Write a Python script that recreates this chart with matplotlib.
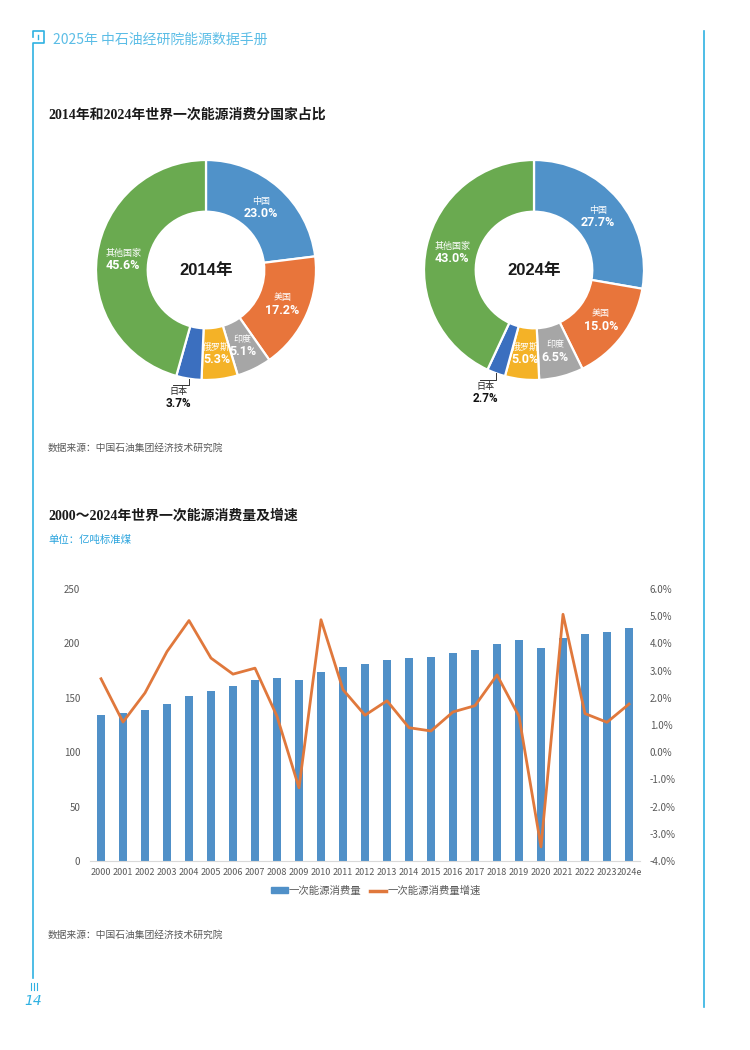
"""2014/2024 world primary energy consumption by country, and 2000-2024 consumption & growth."""
import matplotlib
matplotlib.use("Agg")
import matplotlib.pyplot as plt
import numpy as np
from matplotlib.lines import Line2D
from matplotlib.patches import Patch

plt.rcParams['font.family'] = ['Noto Sans CJK SC', 'DejaVu Sans']

# ---- data ----
countries = ["中国", "美国", "印度", "俄罗斯", "日本", "其他国家"]
share_2014 = [23.0, 17.2, 5.1, 5.3, 3.7, 45.6]
share_2024 = [27.7, 15.0, 6.5, 5.0, 2.7, 43.0]
pie_colors = ["#5092c9", "#e8753b", "#a6a6a6", "#f4b227", "#3b6fbf", "#6aaa50"]

years = ["2000", "2001", "2002", "2003", "2004", "2005", "2006", "2007", "2008",
         "2009", "2010", "2011", "2012", "2013", "2014", "2015", "2016", "2017",
         "2018", "2019", "2020", "2021", "2022", "2023", "2024e"]
consumption = [134.4, 135.6, 139.0, 144.2, 151.2, 156.4, 161.0, 166.3, 168.1,
               166.3, 173.9, 178.5, 181.0, 184.4, 186.2, 187.7, 190.8, 194.2,
               199.7, 202.8, 195.4, 205.2, 208.3, 210.4, 214.1]
growth = [2.70, 1.11, 2.18, 3.70, 4.84, 3.46, 2.87, 3.09, 1.32, -1.31, 4.87, 2.30,
          1.36, 1.89, 0.90, 0.78, 1.48, 1.71, 2.84, 1.32, -3.48, 5.07, 1.42, 1.10, 1.77]

W, H = 750, 1050
BLUE_LINE = "#2fb1e2"
GRAY = "#595959"


def fx(x):
    return x / W


def fy(y):
    return 1 - y / H


fig = plt.figure(figsize=(7.5, 10.5), dpi=100)

# ---- page frame ----
frame = fig.add_axes([0, 0, 1, 1])
frame.set_xlim(0, W)
frame.set_ylim(H, 0)
frame.axis("off")
frame.plot([33, 33, 44, 44, 33, 33], [37, 31, 31, 43, 43, 978], color=BLUE_LINE, lw=1.2)
frame.plot([38, 38], [35, 39], color=BLUE_LINE, lw=1.0)
frame.plot([704, 704], [31, 1007], color=BLUE_LINE, lw=1.2)
for xm in (31, 34, 37):
    frame.plot([xm, xm], [983, 990], color=BLUE_LINE, lw=0.8)
frame.text(33, 1001, "14", color=BLUE_LINE, fontsize=10, style="italic",
           ha="center", va="center", family=["DejaVu Sans"])
frame.text(53, 40, "2025年 中石油经研院能源数据手册", color="#5bbde6", fontsize=10,
           ha="left", va="center", weight="light")

title_font = ["Liberation Serif", "Noto Sans CJK SC"]
frame.text(48, 115, "2014年和2024年世界一次能源消费分国家占比", fontsize=10,
           weight="bold", family=title_font, ha="left", va="center", color="#1a1a1a")
frame.text(48, 448, "数据来源：中国石油集团经济技术研究院", fontsize=7, color=GRAY,
           ha="left", va="center")
frame.text(48, 516, "2000～2024年世界一次能源消费量及增速", fontsize=10,
           weight="bold", family=title_font, ha="left", va="center", color="#1a1a1a")
frame.text(48, 540, "单位：亿吨标准煤", fontsize=7.5, color="#29a3dd",
           ha="left", va="center")
frame.text(48, 935, "数据来源：中国石油集团经济技术研究院", fontsize=7, color=GRAY,
           ha="left", va="center")

# ---- donuts ----
num_font = ["Roboto", "Liberation Sans", "DejaVu Sans"]


def donut(cx, cy, values, year):
    r_px = 110
    half = 130
    ax = fig.add_axes([fx(cx - half), fy(cy + half), 2 * half / W, 2 * half / H])
    ax.pie(values, colors=pie_colors, startangle=90, counterclock=False,
           radius=1, wedgeprops=dict(width=0.47, edgecolor="white", linewidth=1.6))
    lim = half / r_px
    ax.set_xlim(-lim, lim)
    ax.set_ylim(-lim, lim)
    ax.axis("off")
    cum = np.cumsum([0] + values[:-1])
    for name, v, c0 in zip(countries, values, cum):
        ang = np.deg2rad(90 - (c0 + v / 2) * 3.6)
        if name == "日本":
            ex, ey = np.cos(ang), np.sin(ang)
            ax.plot([ex, ex, ex - 0.15], [ey, ey - 0.06, ey - 0.06], color="#333333", lw=0.7)
            tx = ex - 0.1
            ax.text(tx, ey - 0.12, name, fontsize=6.5, ha="center", va="center", color="#222222")
            ax.text(tx, ey - 0.23, f"{v:.1f}%", fontsize=8.5, ha="center", va="center",
                    weight="bold", family=num_font, color="#111111")
            continue
        rr = 0.76
        x, y = rr * np.cos(ang), rr * np.sin(ang)
        ax.text(x, y + 0.055, name, fontsize=6.5, ha="center", va="center", color="white")
        ax.text(x, y - 0.06, f"{v:.1f}%", fontsize=9, ha="center", va="center",
                weight="bold", family=num_font, color="white")
    ax.text(0, 0, f"{year}年", fontsize=12, weight="bold", ha="center", va="center",
            family=["Liberation Sans", "Noto Sans CJK SC"], color="#1a1a1a")


donut(206, 270, share_2014, 2014)
donut(534, 270, share_2024, 2024)

# ---- bar + line chart ----
ax = fig.add_axes([fx(90), fy(861), 550 / W, 272 / H])
x = np.arange(len(years))
ax.bar(x, consumption, width=0.34, color="#5090c8", zorder=2)
ax.set_xlim(-0.5, len(years) - 0.5)
ax.set_ylim(0, 250)
ax.set_yticks(np.arange(0, 251, 50))
ax.set_xticks(x)
ax.set_xticklabels(years)
ax.tick_params(axis="both", length=0, labelsize=7, colors=GRAY)
ax.tick_params(axis="x", labelsize=6.5, pad=5)
ax.tick_params(axis="y", pad=7)
for s in ("top", "right", "left"):
    ax.spines[s].set_visible(False)
ax.spines["bottom"].set_color("#d9d9d9")

ax2 = ax.twinx()
ax2.plot(x, growth, color="#e0783c", lw=2.0, zorder=3)
ax2.set_ylim(-4, 6)
ax2.set_yticks(np.arange(-4, 6.1, 1))
ax2.set_yticklabels([f"{v:.1f}%" for v in np.arange(-4, 6.1, 1)])
ax2.tick_params(axis="y", length=0, labelsize=7, colors=GRAY, pad=7)
for s in ax2.spines.values():
    s.set_visible(False)

handles = [Patch(color="#5090c8"), Line2D([], [], color="#e0783c", lw=2.5)]
leg = fig.legend(handles, ["一次能源消费量", "一次能源消费量增速"], loc="center",
                 bbox_to_anchor=(fx(376), fy(891)), ncol=2, frameon=False, fontsize=7.5,
                 handlelength=1.6, handleheight=0.5, handletextpad=0.1, columnspacing=0.8)
for t in leg.get_texts():
    t.set_color(GRAY)

fig.savefig("out.png", dpi=100)
